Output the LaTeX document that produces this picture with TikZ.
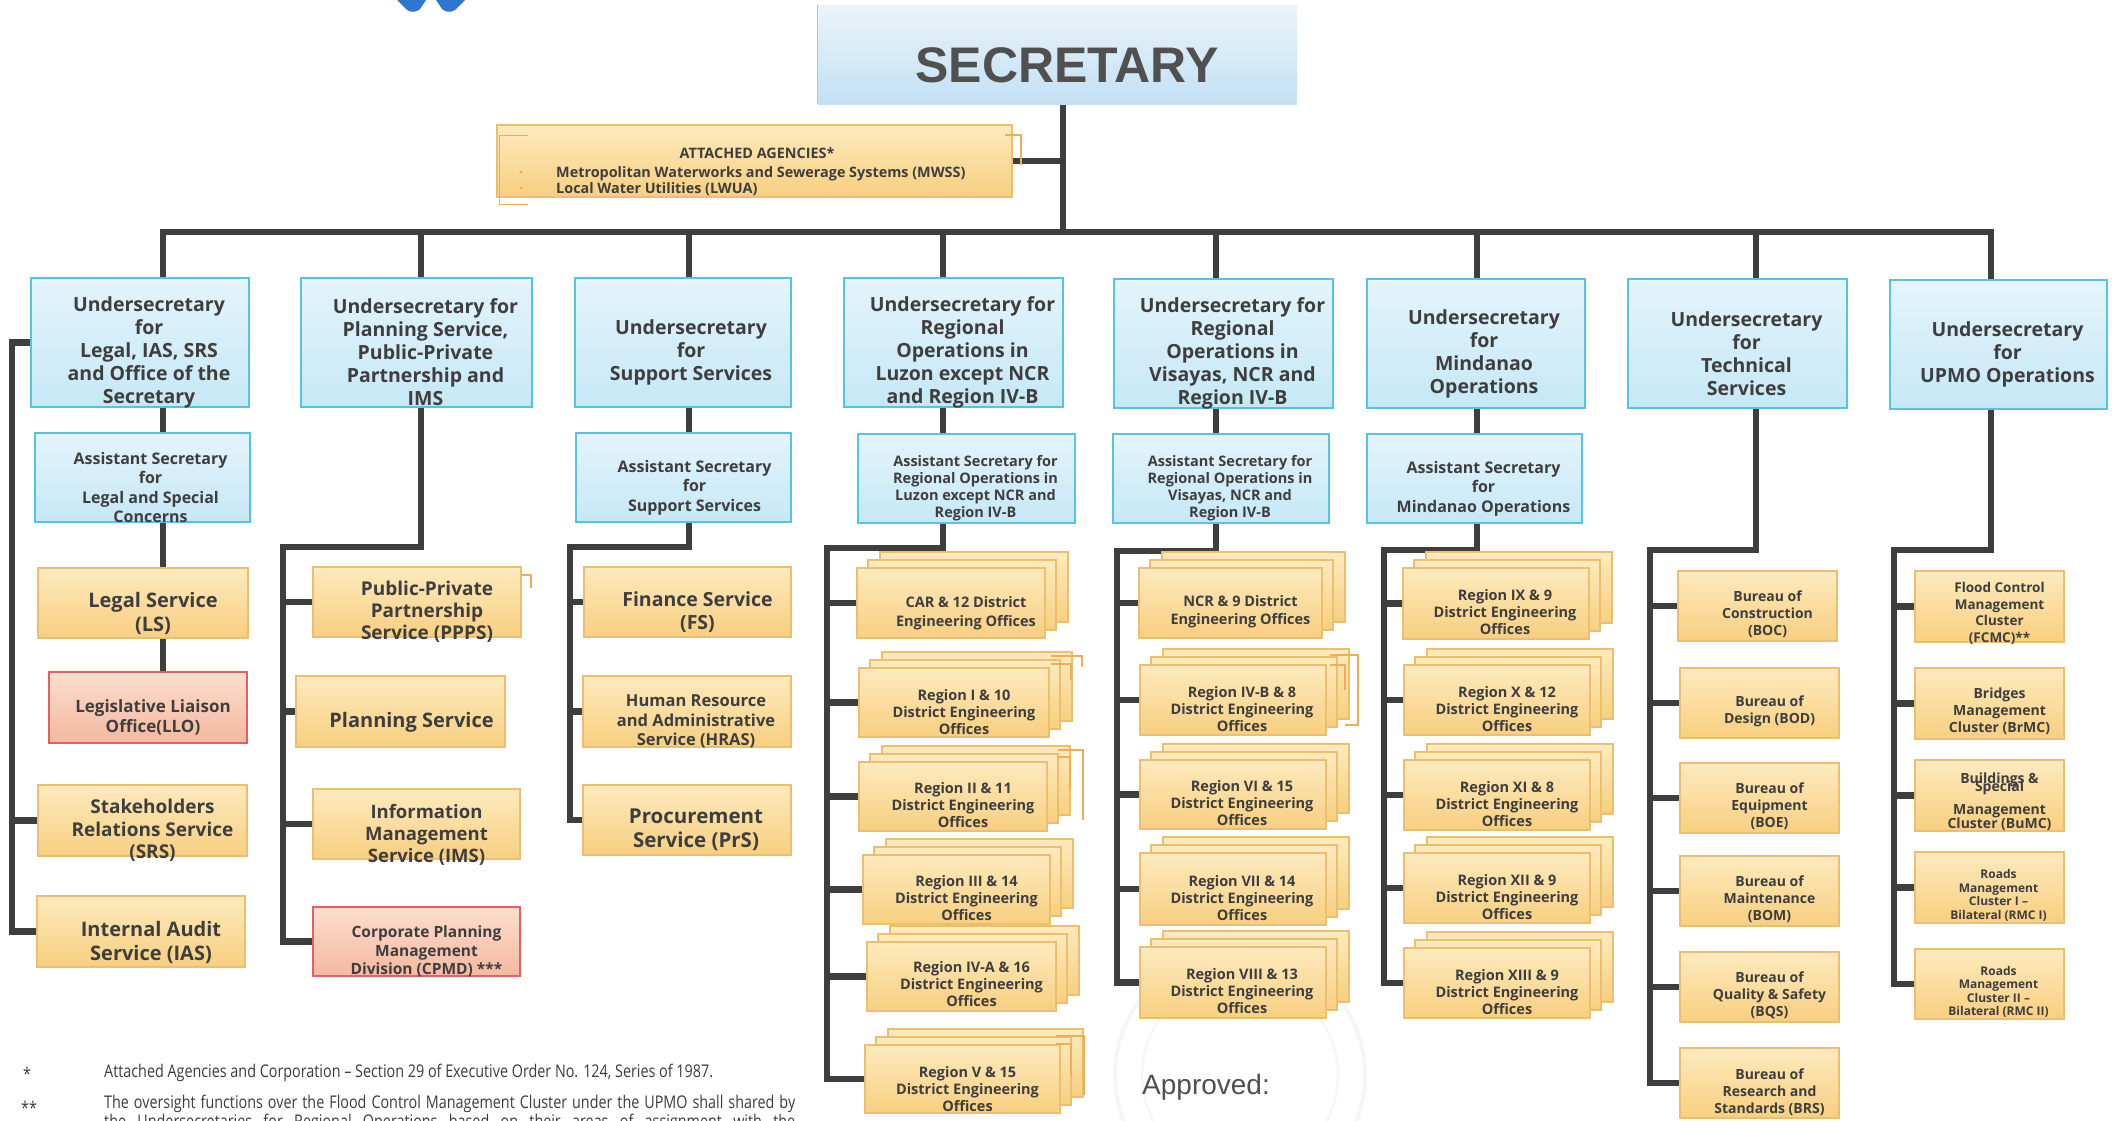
\documentclass[tikz,border=0pt]{standalone}
\usepackage{fontspec}
\setmainfont{Open Sans}
\newfontfamily\libsans{Liberation Sans}
\newfontfamily\fnfont[FakeStretch=0.82]{Open Sans}
\usetikzlibrary{backgrounds}
\definecolor{txt}{RGB}{62,62,62}
\definecolor{linec}{RGB}{62,62,62}
\definecolor{bluebd}{RGB}{84,196,226}
\definecolor{bluetop}{RGB}{228,244,251}
\definecolor{bluebot}{RGB}{198,232,246}
\definecolor{yelbd}{RGB}{236,190,110}
\definecolor{yeltop}{RGB}{253,234,190}
\definecolor{yelbot}{RGB}{247,207,128}
\definecolor{pinkbd}{RGB}{226,96,96}
\definecolor{pinktop}{RGB}{252,222,205}
\definecolor{pinkbot}{RGB}{244,184,160}
\definecolor{sectop}{RGB}{236,243,249}
\definecolor{secbot}{RGB}{194,225,244}
\definecolor{sectxtc}{RGB}{80,80,80}
\definecolor{orng}{RGB}{242,172,84}
\definecolor{logob}{RGB}{46,118,206}
\definecolor{wm}{RGB}{246,246,246}
\definecolor{fnc}{RGB}{60,60,60}
\tikzset{
  conn/.style={line width=6.5pt, draw=linec, line join=miter},
  secbox/.style={top color=sectop, bottom color=secbot, inner sep=0pt, rectangle},
  bbox/.style={draw=bluebd, line width=2pt, top color=bluetop, bottom color=bluebot, inner sep=0pt, rectangle},
  ybox/.style={draw=yelbd, line width=1.2pt, top color=yeltop, bottom color=yelbot, inner sep=0pt, rectangle},
  pbox/.style={draw=pinkbd, line width=1.6pt, top color=pinktop, bottom color=pinkbot, inner sep=0pt, rectangle},
  lbl/.style={text=txt, align=center, inner sep=0pt},
  fsz/.style 2 args={font=\bfseries\fontsize{#1}{#2}\selectfont},
  tUs/.style={fsz={19.5}{23}},
  tAs/.style={fsz={16}{19.5}},
  tAs2/.style={fsz={14.5}{17}},
  tBig/.style={fsz={20}{24}},
  tMid/.style={fsz={19}{22.5}},
  tSm/.style={fsz={16.5}{19.5}},
  tReg/.style={fsz={14.5}{17}},
  tBur/.style={fsz={14}{17}},
  tCl/.style={fsz={13.5}{16.5}},
  tRmc/.style={fsz={12}{13.5}},
  tAtt/.style={fsz={14.4}{16}},
  fn/.style={font=\fnfont\fontsize{17.5}{20}\selectfont, text=fnc, inner sep=0pt, anchor=base west},
  brk/.style={draw=orng, line width=1.6pt},
}
\newcommand{\bx}[9]{%
  \node[#1, minimum width={(#4-#2)*1pt}, minimum height={(#5-#3)*1pt}] (#6) at ({(#2+#4)/2},{(#3+#5)/2}) {};
  \node[lbl,#7] (#6-t) at ([shift={(#8)}]#6.center) {#9};}
\newcommand{\stk}[8]{%
  \path[ybox] ({#1+23},{#2-16}) rectangle ({#3+23},{#4-16});
  \path[ybox] ({#1+11},{#2-8}) rectangle ({#3+11},{#4-8});
  \bx{ybox}{#1}{#2}{#3}{#4}{#5}{#6}{#7}{#8}}
\begin{document}
\begin{tikzpicture}[x=1pt,y=-1pt]
\useasboundingbox (0,0) rectangle (2112,1120);
\clip (0,0) rectangle (2112,1120);

% logo fragment
\fill[logob] (397,0) -- (407,10) .. controls (411,13) and (417,12) .. (420,9) -- (426,0) -- cycle;
\fill[logob] (436,0) -- (442,9) .. controls (445,12) and (451,13) .. (455,10) -- (465,0) -- cycle;

% secretary
\node[secbox, minimum width=479pt, minimum height=99pt] (sec) at (1057.5,54.5) {};
\draw[gray!50, line width=1pt] (sec.north west) -- (sec.south west);
\node[text=sectxtc, font=\libsans\bfseries\fontsize{50}{60}\selectfont, inner sep=0pt] (sectxt) at (1067,65) {SECRETARY};

% attached agencies
\node[ybox, minimum width=515pt, minimum height=72pt] (att) at (754.5,161) {};
\node[lbl, tAtt, anchor=base] (att1) at (757,158.5) {ATTACHED AGENCIES*};
\node[lbl, tAtt, anchor=base west] (att2) at (556,177) {Metropolitan Waterworks and Sewerage Systems (MWSS)};
\node[lbl, tAtt, anchor=base west] (att3) at (556,193) {Local Water Utilities (LWUA)};
\fill[orng] (521,172) circle[radius=1.6pt];
\fill[orng] (521,188) circle[radius=1.6pt];
\draw[brk] (1005,135) -- (1021,135) -- (1021,165);
\draw[draw=orng, line width=0.8pt] (528,135) -- (499,135) -- (499,204) -- (528,204);

% undersecretaries
\bx{bbox}{31}{278}{249}{407}{u1}{tUs}{9pt,-10pt}{Undersecretary\\for\\Legal, IAS, SRS\\and Office of the\\Secretary}
\bx{bbox}{301}{278}{532}{407}{u2}{tUs}{9pt,-10pt}{Undersecretary for\\Planning Service,\\Public-Private\\Partnership and\\IMS}
\bx{bbox}{575}{278}{791}{407}{u3}{tUs}{8pt,-10pt}{Undersecretary\\for\\Support Services}
\bx{bbox}{844}{278}{1063}{407}{u4}{tUs}{9pt,-10pt}{Undersecretary for\\Regional\\Operations in\\Luzon except NCR\\and Region IV-B}
\bx{bbox}{1114}{279}{1333}{408}{u5}{tUs}{9pt,-10pt}{Undersecretary for\\Regional\\Operations in\\Visayas, NCR and\\Region IV-B}
\bx{bbox}{1367}{279}{1585}{408}{u6}{tUs}{8pt,-10pt}{Undersecretary\\for\\Mindanao\\Operations}
\bx{bbox}{1628}{279}{1847}{408}{u7}{tUs}{9pt,-10pt}{Undersecretary\\for\\Technical\\Services}
\bx{bbox}{1890}{280}{2107}{409}{u8}{tUs}{9pt,-10pt}{Undersecretary\\for\\UPMO Operations}

% assistant secretaries
\bx{bbox}{35}{433}{250}{522}{a1}{tAs}{8pt,-10pt}{Assistant Secretary\\for\\Legal and Special\\Concerns}
\bx{bbox}{576}{433}{791}{522}{a3}{tAs}{11pt,-10pt}{Assistant Secretary\\for\\Support Services}
\bx{bbox}{858}{434}{1075}{523}{a4}{tAs2}{9pt,-10pt}{Assistant Secretary for\\Regional Operations in\\Luzon except NCR and\\Region IV-B}
\bx{bbox}{1113}{434}{1329}{523}{a5}{tAs2}{9pt,-10pt}{Assistant Secretary for\\Regional Operations in\\Visayas, NCR and\\Region IV-B}
\bx{bbox}{1367}{434}{1582}{523}{a6}{tAs}{9pt,-10pt}{Assistant Secretary\\for\\Mindanao Operations}

% column 1
\bx{ybox}{38}{568}{248}{638}{ls}{tBig}{10pt,-10pt}{Legal Service\\(LS)}
\bx{pbox}{49}{672}{247}{743}{llo}{fsz={17}{19.5}}{5pt,-10pt}{Legislative Liaison\\Office(LLO)}
\bx{ybox}{38}{785}{247}{856}{srs}{tMid}{10pt,-10pt}{Stakeholders\\Relations Service\\(SRS)}
\bx{ybox}{37}{896}{245}{967}{ias}{fsz={20}{23.5}}{10pt,-11pt}{Internal Audit\\Service (IAS)}

% column 2
\bx{ybox}{313}{567}{521}{637}{ppps}{fsz={19}{22}}{10pt,-10pt}{Public-Private\\Partnership\\Service (PPPS)}
\bx{ybox}{296}{676}{505}{747}{plan}{tBig}{11pt,-11pt}{Planning Service}
\bx{ybox}{313}{789}{520}{859}{ims}{fsz={18.5}{22}}{10pt,-11pt}{Information\\Management\\Service (IMS)}
\bx{pbox}{313}{907}{520}{976}{cpmd}{fsz={15.5}{18.5}}{10pt,-10pt}{Corporate Planning\\Management\\Division (CPMD) ***}
\draw[brk] (521,575) -- (531,575) -- (531,588);

% column 3
\bx{ybox}{584}{567}{791}{637}{fs}{fsz={19.5}{23}}{10pt,-10pt}{Finance Service\\(FS)}
\bx{ybox}{583}{676}{791}{747}{hras}{tSm}{9pt,-10pt}{Human Resource\\and Administrative\\Service (HRAS)}
\bx{ybox}{583}{785}{791}{855}{prs}{fsz={20.5}{24}}{9pt,-10pt}{Procurement\\Service (PrS)}

% column 4
\stk{857}{568}{1045}{638}{car}{fsz={14.5}{19.5}}{15pt,-10pt}{CAR \& 12 District\\Engineering Offices}
\stk{859}{668}{1049}{737}{r1}{tReg}{10pt,-10pt}{Region I \& 10\\District Engineering\\Offices}
\stk{859}{762}{1047}{831}{r2}{tReg}{10pt,-9pt}{Region II \& 11\\District Engineering\\Offices}
\stk{863}{855}{1050}{924}{r3}{tReg}{10pt,-9pt}{Region III \& 14\\District Engineering\\Offices}
\stk{867}{942}{1056}{1011}{r4}{tReg}{10pt,-8pt}{Region IV-A \& 16\\District Engineering\\Offices}
\stk{865}{1045}{1060}{1113}{r5}{tReg}{5pt,-10pt}{Region V \& 15\\District Engineering\\Offices}
\draw[brk] (1051,656) -- (1082,656) -- (1082,667);
\draw[brk] (1051,664) -- (1071,664) -- (1071,680);
\draw[brk] (1058,750) -- (1083,750) -- (1083,820);
\draw[brk] (1058,757) -- (1070,757) -- (1070,790);
\draw[brk] (1056,1036) -- (1084,1036) -- (1084,1095);
\draw[brk] (1056,1044) -- (1071,1044) -- (1071,1075);

% column 5
\stk{1139}{568}{1322}{638}{ncr}{fsz={14.5}{18}}{10pt,-9pt}{NCR \& 9 District\\Engineering Offices}
\stk{1140}{665}{1326}{735}{r48}{tReg}{9pt,-9pt}{Region IV-B \& 8\\District Engineering\\Offices}
\stk{1140}{760}{1326}{829}{r6}{tReg}{9pt,-9pt}{Region VI \& 15\\District Engineering\\Offices}
\stk{1140}{853}{1326}{925}{r7}{tReg}{9pt,-9pt}{Region VII \& 14\\District Engineering\\Offices}
\stk{1140}{947}{1326}{1018}{r8}{tReg}{9pt,-9pt}{Region VIII \& 13\\District Engineering\\Offices}
\draw[brk] (1330,655) -- (1358,655) -- (1358,725) -- (1345,725);
\draw[brk] (1330,665) -- (1345,665) -- (1345,690);

% column 6
\stk{1403}{568}{1589}{639}{r9}{tReg}{9pt,-9pt}{Region IX \& 9\\District Engineering\\Offices}
\stk{1404}{665}{1590}{735}{r10}{tReg}{10pt,-9pt}{Region X \& 12\\District Engineering\\Offices}
\stk{1404}{760}{1590}{830}{r11}{tReg}{10pt,-9pt}{Region XI \& 8\\District Engineering\\Offices}
\stk{1404}{853}{1590}{923}{r12}{tReg}{10pt,-9pt}{Region XII \& 9\\District Engineering\\Offices}
\stk{1404}{948}{1590}{1018}{r13}{tReg}{10pt,-9pt}{Region XIII \& 9\\District Engineering\\Offices}

% column 7
\bx{ybox}{1678}{571}{1837}{641}{boc}{tBur}{10pt,-8pt}{Bureau of\\Construction\\(BOC)}
\bx{ybox}{1680}{668}{1839}{738}{bod}{tBur}{10pt,-8pt}{Bureau of\\Design (BOD)}
\bx{ybox}{1680}{763}{1839}{833}{boe}{tBur}{10pt,-8pt}{Bureau of\\Equipment\\(BOE)}
\bx{ybox}{1680}{856}{1839}{926}{bom}{tBur}{10pt,-8pt}{Bureau of\\Maintenance\\(BOM)}
\bx{ybox}{1680}{952}{1839}{1022}{bqs}{tBur}{10pt,-8pt}{Bureau of\\Quality \& Safety\\(BQS)}
\bx{ybox}{1680}{1048}{1839}{1118}{brs}{tBur}{10pt,-9pt}{Bureau of\\Research and\\Standards (BRS)}

% column 8
\bx{ybox}{1915}{571}{2064}{642}{fcmc}{tCl}{10pt,-7pt}{Flood Control\\Management\\Cluster\\(FCMC)**}
\bx{ybox}{1915}{668}{2064}{739}{brmc}{tBur}{10pt,-8pt}{Bridges\\Management\\Cluster (BrMC)}
\bx{ybox}{1915}{760}{2064}{831}{bumc}{tBur}{10pt,-6pt}{Buildings \&\\[-9pt]Special\\[6pt]Management\\[-3pt]Cluster (BuMC)}
\bx{ybox}{1915}{852}{2064}{923}{rmc1}{tRmc}{9pt,-8pt}{Roads\\Management\\Cluster I –\\Bilateral (RMC I)}
\bx{ybox}{1915}{949}{2064}{1019}{rmc2}{tRmc}{9pt,-8pt}{Roads\\Management\\Cluster II –\\Bilateral (RMC II)}

% footnotes
\node[fn] (fn1s) at (23,1080) {*};
\node[fn] (fn1) at (104,1077) {Attached Agencies and Corporation – Section 29 of Executive Order No. 124, Series of 1987.};
\node[fn] (fn2s) at (21,1114) {**};
\node[fn] (fn2) at (104,1108) {\makebox[691pt][s]{The oversight functions over the Flood Control Management Cluster under the UPMO shall shared by}};
\node[fn] (fn3) at (104,1127) {\makebox[691pt][s]{the Undersecretaries for Regional Operations based on their areas of assignment with the}};
\node[font=\libsans\fontsize{28}{32}\selectfont, text=sectxtc, anchor=base west, inner sep=0pt] (appr) at (1142,1094) {Approved:};

% connectors
\coordinate (ds) at (1063,232);
\coordinate (d1) at (163,232);
\coordinate (d2) at (421,232);
\coordinate (d3) at (689,232);
\coordinate (d4) at (943,232);
\coordinate (d5) at (1216,232);
\coordinate (d6) at (1477,232);
\coordinate (d7) at (1756,232);
\coordinate (d8) at (1991,232);
\coordinate (k1) at (12,340);
\coordinate (k2) at (283,547);
\coordinate (k3) at (570,547);
\coordinate (k4) at (827,548);
\coordinate (k5) at (1117,551);
\coordinate (k6) at (1384,550);
\coordinate (k7) at (1650,550);
\coordinate (k8) at (1894,550);

\begin{scope}[on background layer]
\fill[white] (0,0) rectangle (2112,1120);
\draw[wm, line width=4pt] (1240,1075) circle[radius=125pt];
\draw[wm, line width=2.5pt] (1240,1075) circle[radius=98pt];
% trunk
\draw[conn] (ds |- sec.south) -- (ds);
\draw[conn] (att.east) -- (att.east -| ds);
\draw[conn] (d1 |- u1.north) -- (d1) -- (d8) -- (d8 |- u8.north);
\foreach \i in {2,...,7} \draw[conn] (d\i) -- (d\i |- u\i.north);
% under to assistant
\foreach \i in {1,3,4,5,6} \draw[conn] (d\i |- u\i.south) -- (d\i |- a\i.north);
% column 1
\draw[conn] (d1 |- a1.south) -- (d1 |- ls.north);
\draw[conn] (d1 |- ls.south) -- (d1 |- llo.north);
\draw[conn] (u1.west) -- (k1 |- u1.west) |- (ias.west);
\draw[conn] (k1 |- srs.west) -- (srs.west);
% column 2
\draw[conn] (d2 |- u2.south) |- (k2) |- (cpmd.west);
\foreach \n in {ppps,plan,ims} \draw[conn] (k2 |- \n.west) -- (\n.west);
% column 3
\draw[conn] (d3 |- a3.south) |- (k3) |- (prs.west);
\foreach \n in {fs,hras} \draw[conn] (k3 |- \n.west) -- (\n.west);
% column 4
\draw[conn] (d4 |- a4.south) |- (k4) |- (r5.west);
\foreach \n in {car,r1,r2,r3,r4} \draw[conn] (k4 |- \n.west) -- (\n.west);
% column 5
\draw[conn] (d5 |- a5.south) |- (k5) |- (r8.west);
\foreach \n in {ncr,r48,r6,r7} \draw[conn] (k5 |- \n.west) -- (\n.west);
% column 6
\draw[conn] (d6 |- a6.south) |- (k6) |- (r13.west);
\foreach \n in {r9,r10,r11,r12} \draw[conn] (k6 |- \n.west) -- (\n.west);
% column 7
\draw[conn] (d7 |- u7.south) |- (k7) |- (brs.west);
\foreach \n in {boc,bod,boe,bom,bqs} \draw[conn] (k7 |- \n.west) -- (\n.west);
% column 8
\draw[conn] (d8 |- u8.south) |- (k8) |- (rmc2.west);
\foreach \n in {fcmc,brmc,bumc,rmc1} \draw[conn] (k8 |- \n.west) -- (\n.west);
\end{scope}
\end{tikzpicture}
\end{document}
